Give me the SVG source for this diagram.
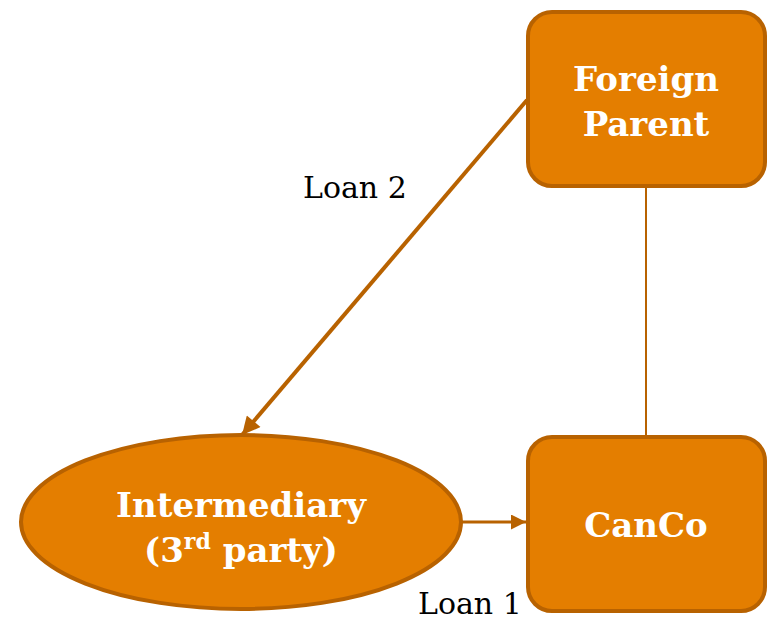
<svg xmlns="http://www.w3.org/2000/svg" width="767" height="621" viewBox="0 0 767 621">
<defs>
<style>
.node{fill:#E47E00;stroke:#B86200;stroke-width:4}
.lbl{fill:#fff;font-family:"DejaVu Serif","Liberation Serif",serif;font-weight:bold;font-size:34px;text-anchor:middle}
.edge{fill:none;stroke:#B86200}
.elbl{fill:#000;font-family:"DejaVu Serif","Liberation Serif",serif;font-size:30px}
</style>
<marker id="ah" viewBox="0 0 10 10" refX="10" refY="5" markerWidth="5" markerHeight="4.5" markerUnits="strokeWidth" orient="auto">
<path d="M0,0 L10,5 L0,10 z" fill="#B86200"/>
</marker>
<marker id="ah2" viewBox="0 0 10 10" refX="10" refY="5" markerWidth="5" markerHeight="5" markerUnits="strokeWidth" orient="auto">
<path d="M0,0 L10,5 L0,10 z" fill="#B86200"/>
</marker>
</defs>
<g id="connectors">
<line class="edge" x1="646" y1="186" x2="646" y2="436" stroke-width="2"/>
<line class="edge" x1="527" y1="100" x2="242" y2="435" stroke-width="4" marker-end="url(#ah)"/>
<line class="edge" x1="462" y1="522" x2="526" y2="522" stroke-width="3" marker-end="url(#ah2)"/>
<text class="elbl" x="303" y="198">Loan 2</text>
<text class="elbl" x="418" y="614">Loan 1</text>
</g>
<g id="foreign-parent">
<rect class="node" x="528" y="12" width="237" height="174" rx="24"/>
<text class="lbl" x="646" y="91">Foreign</text>
<text class="lbl" x="646" y="136">Parent</text>
</g>
<g id="canco">
<rect class="node" x="528" y="437" width="237" height="174" rx="24"/>
<text class="lbl" x="646" y="537">CanCo</text>
</g>
<g id="intermediary">
<ellipse class="node" cx="241" cy="522" rx="220" ry="87"/>
<text class="lbl" x="241" y="517">Intermediary</text>
<text class="lbl" x="241" y="562">(3<tspan font-size="22" dy="-13">rd</tspan><tspan dy="13"> party)</tspan></text>
</g>
</svg>
